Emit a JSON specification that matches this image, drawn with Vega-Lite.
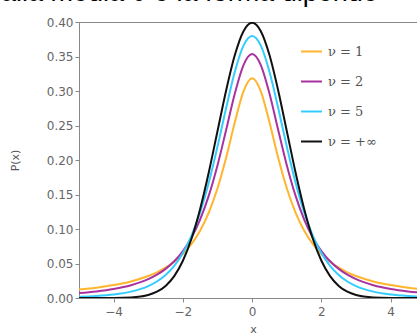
{
  "$schema": "https://vega.github.io/schema/vega-lite/v6.json",
  "width": 338,
  "height": 276,
  "autosize": "none",
  "padding": {"left": 79, "top": 22, "right": 0, "bottom": 38},
  "background": "white",
  "view": {"stroke": "#888", "strokeWidth": 1},
  "title": {
    "text": "alla media 0 e la forma dipende",
    "font": "Liberation Sans",
    "fontSize": 27,
    "fontWeight": "normal",
    "color": "#000",
    "anchor": "start",
    "frame": "group",
    "baseline": "alphabetic",
    "dx": -78,
    "dy": 14,
    "offset": 2
  },
  "data": {"values": [
    {"x": -5, "a": 0.01224, "b": 0.00713, "c": 0.00176, "d": 0.0},
    {"x": -4.5, "a": 0.01498, "b": 0.00953, "c": 0.00295, "d": 0.00002},
    {"x": -4, "a": 0.01872, "b": 0.01309, "c": 0.00512, "d": 0.00013},
    {"x": -3.5, "a": 0.02402, "b": 0.01859, "c": 0.00924, "d": 0.00087},
    {"x": -3, "a": 0.03183, "b": 0.02741, "c": 0.01729, "d": 0.00443},
    {"x": -2.75, "a": 0.03717, "b": 0.03382, "c": 0.02393, "d": 0.00909},
    {"x": -2.5, "a": 0.04390, "b": 0.04220, "c": 0.03333, "d": 0.01753},
    {"x": -2.25, "a": 0.05251, "b": 0.05328, "c": 0.04657, "d": 0.03174},
    {"x": -2, "a": 0.06366, "b": 0.06804, "c": 0.06509, "d": 0.05399},
    {"x": -1.75, "a": 0.07835, "b": 0.08779, "c": 0.09054, "d": 0.08628},
    {"x": -1.5, "a": 0.09794, "b": 0.11413, "c": 0.12452, "d": 0.12952},
    {"x": -1.25, "a": 0.12422, "b": 0.14872, "c": 0.16789, "d": 0.18265},
    {"x": -1, "a": 0.15915, "b": 0.19245, "c": 0.21968, "d": 0.24197},
    {"x": -0.75, "a": 0.20372, "b": 0.24378, "c": 0.27569, "d": 0.30114},
    {"x": -0.5, "a": 0.25465, "b": 0.29630, "c": 0.32792, "d": 0.35207},
    {"x": -0.25, "a": 0.29959, "b": 0.33761, "c": 0.36572, "d": 0.38667},
    {"x": 0, "a": 0.31831, "b": 0.35355, "c": 0.37961, "d": 0.39894},
    {"x": 0.25, "a": 0.29959, "b": 0.33761, "c": 0.36572, "d": 0.38667},
    {"x": 0.5, "a": 0.25465, "b": 0.29630, "c": 0.32792, "d": 0.35207},
    {"x": 0.75, "a": 0.20372, "b": 0.24378, "c": 0.27569, "d": 0.30114},
    {"x": 1, "a": 0.15915, "b": 0.19245, "c": 0.21968, "d": 0.24197},
    {"x": 1.25, "a": 0.12422, "b": 0.14872, "c": 0.16789, "d": 0.18265},
    {"x": 1.5, "a": 0.09794, "b": 0.11413, "c": 0.12452, "d": 0.12952},
    {"x": 1.75, "a": 0.07835, "b": 0.08779, "c": 0.09054, "d": 0.08628},
    {"x": 2, "a": 0.06366, "b": 0.06804, "c": 0.06509, "d": 0.05399},
    {"x": 2.25, "a": 0.05251, "b": 0.05328, "c": 0.04657, "d": 0.03174},
    {"x": 2.5, "a": 0.04390, "b": 0.04220, "c": 0.03333, "d": 0.01753},
    {"x": 2.75, "a": 0.03717, "b": 0.03382, "c": 0.02393, "d": 0.00909},
    {"x": 3, "a": 0.03183, "b": 0.02741, "c": 0.01729, "d": 0.00443},
    {"x": 3.5, "a": 0.02402, "b": 0.01859, "c": 0.00924, "d": 0.00087},
    {"x": 4, "a": 0.01872, "b": 0.01309, "c": 0.00512, "d": 0.00013},
    {"x": 4.5, "a": 0.01498, "b": 0.00953, "c": 0.00295, "d": 0.00002},
    {"x": 5, "a": 0.01224, "b": 0.00713, "c": 0.00176, "d": 0.0}
  ]},
  "transform": [{"fold": ["a", "b", "c", "d"], "as": ["s", "p"]}],
  "mark": {"type": "line", "interpolate": "monotone", "strokeWidth": 2, "clip": true},
  "encoding": {
    "x": {
      "field": "x", "type": "quantitative",
      "scale": {"domain": [-5, 4.76], "nice": false, "zero": false},
      "axis": {
        "values": [-4, -2, 0, 2, 4], "title": "x", "grid": false,
        "labelExpr": "replace(datum.label, '-', '−')",
        "domainColor": "#888", "tickColor": "#888", "tickSize": 4,
        "labelColor": "#666", "labelFontSize": 12, "labelFont": "DejaVu Sans", "labelPadding": 4,
        "titleColor": "#555", "titleFontSize": 11, "titleFont": "DejaVu Sans",
        "titleFontWeight": "normal", "titlePadding": 6, "titleX": 174
      }
    },
    "y": {
      "field": "p", "type": "quantitative",
      "scale": {"domain": [0, 0.4], "nice": false},
      "axis": {
        "values": [0, 0.05, 0.1, 0.15, 0.2, 0.25, 0.3, 0.35, 0.4],
        "format": ".2f", "title": "P(x)", "grid": false,
        "domainColor": "#888", "tickColor": "#888", "tickSize": 4,
        "labelColor": "#666", "labelFontSize": 12, "labelFont": "DejaVu Sans",
        "titleColor": "#555", "titleFontSize": 11, "titleFont": "DejaVu Sans",
        "titleFontWeight": "normal", "titlePadding": 26
      }
    },
    "color": {
      "field": "s", "type": "nominal",
      "scale": {"domain": ["a", "b", "c", "d"], "range": ["#ffb52e", "#a8329f", "#33ccff", "#111111"]},
      "legend": {
        "orient": "none", "legendX": 221, "legendY": 18, "title": null,
        "labelExpr": "{'a': 'ν = 1', 'b': 'ν = 2', 'c': 'ν = 5', 'd': 'ν = +∞'}[datum.label]",
        "symbolType": "stroke", "symbolSize": 440, "symbolStrokeWidth": 2,
        "labelFont": "DejaVu Serif", "labelFontSize": 13, "labelColor": "#555",
        "rowPadding": 11, "labelOffset": 5
      }
    }
  }
}
